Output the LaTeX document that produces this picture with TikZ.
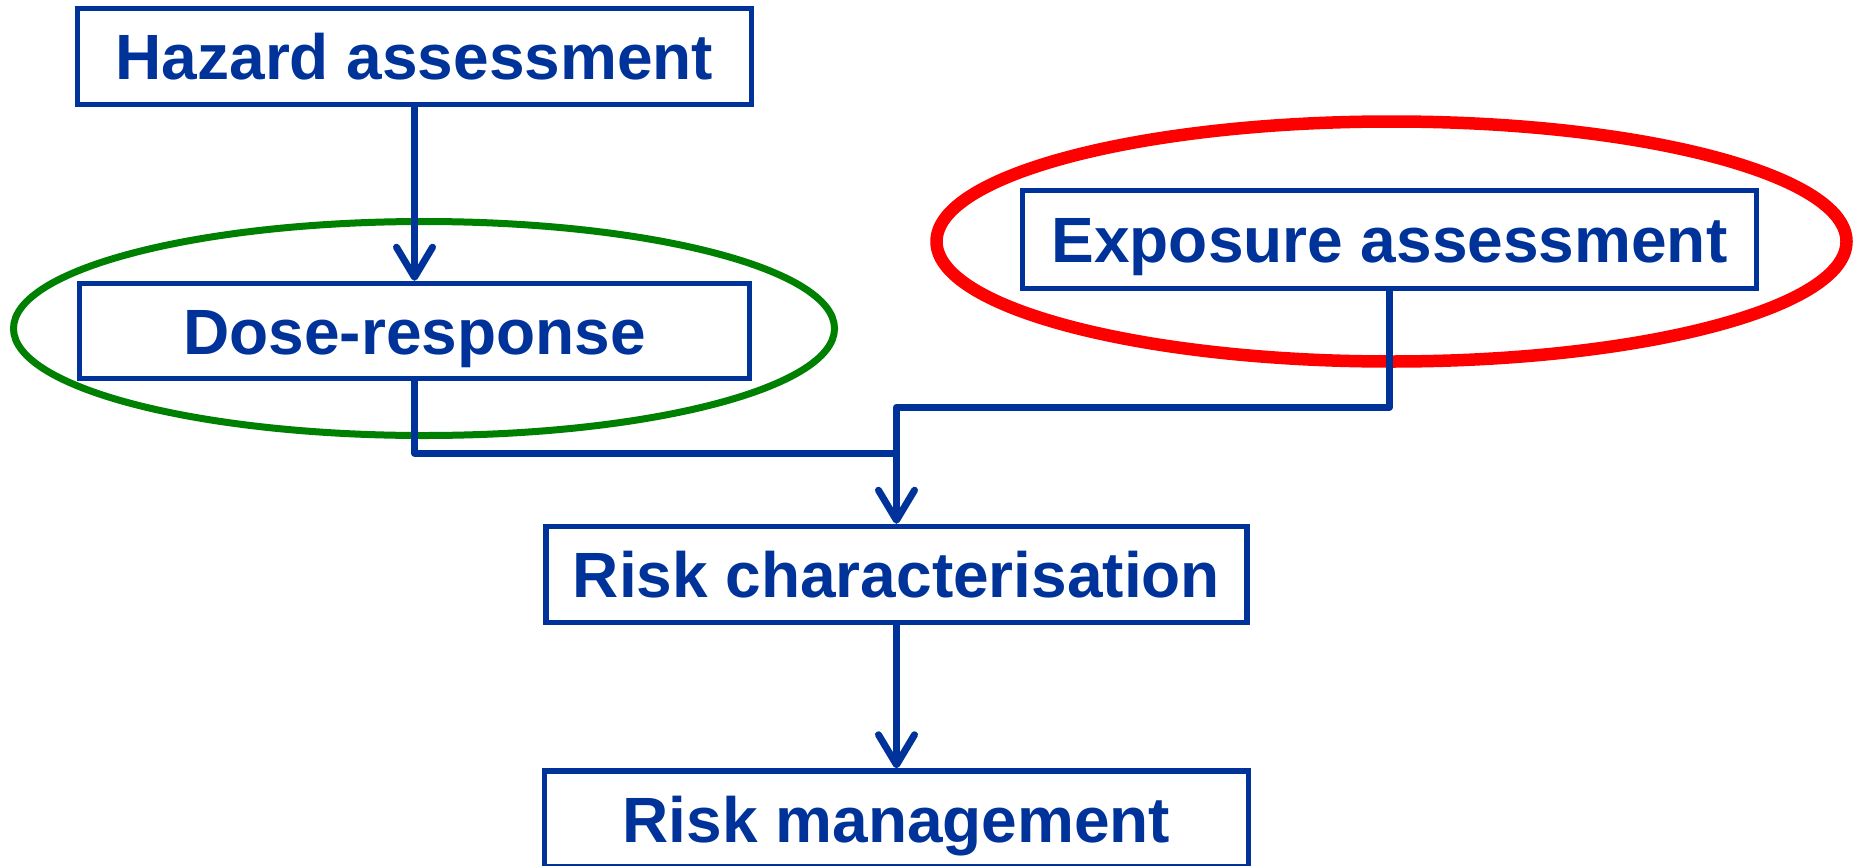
\documentclass[tikz,border=0pt]{standalone}
\usepackage{fontspec}
\setmainfont{Liberation Sans}
\usetikzlibrary{arrows.meta}
\definecolor{dblue}{RGB}{0,51,153}
\definecolor{dgreen}{RGB}{0,128,0}
\definecolor{dred}{RGB}{255,0,0}
\begin{document}
\begin{tikzpicture}[x=1pt,y=-1pt,
  box/.style={draw=dblue, line width=5.5pt, fill=white, text=dblue,
    font=\fontsize{64}{70}\selectfont\bfseries, inner sep=0pt,
    text height=46pt, text depth=0pt},
  conn/.style={draw=dblue, line width=7pt, line join=round},
  tipstyle/.style={-{Straight Barb[length=30pt,width=36pt,round]}}]
\useasboundingbox (0,0) rectangle (1855,865);
% highlight ellipses
\draw[dgreen, line width=7pt] (424,328.5) ellipse [x radius=410.5pt, y radius=107pt];
\draw[dred, line width=12.5pt] (1391.5,241.5) ellipse [x radius=455pt, y radius=120pt];
% boxes
\node[box, minimum width=674pt, minimum height=96pt] (haz) at (414.5,56.5) {Hazard assessment};
\node[box, minimum width=670pt, minimum height=95pt] (dose) at (414.5,331) {Dose-response};
\node[box, minimum width=734pt, minimum height=98pt] (expo) at (1389.5,239.5) {Exposure assessment};
\node[box, minimum width=701pt, minimum height=96pt] (risk) at (896.5,574.5) {Risk characterisation};
\node[box, minimum width=704pt, minimum height=96pt] (mgmt) at (896.5,819) {Risk management};
% junction points
\coordinate (j1) at (896.5,453);
\coordinate (j2) at (896.5,407);
% connectors
\draw[conn, tipstyle] (haz.south) -- (dose.north);
\draw[conn] (dose.south) |- (j1);
\draw[conn, tipstyle] (expo.south) |- (j2) -- (risk.north);
\draw[conn, tipstyle] (risk.south) -- (mgmt.north);
\end{tikzpicture}
\end{document}
